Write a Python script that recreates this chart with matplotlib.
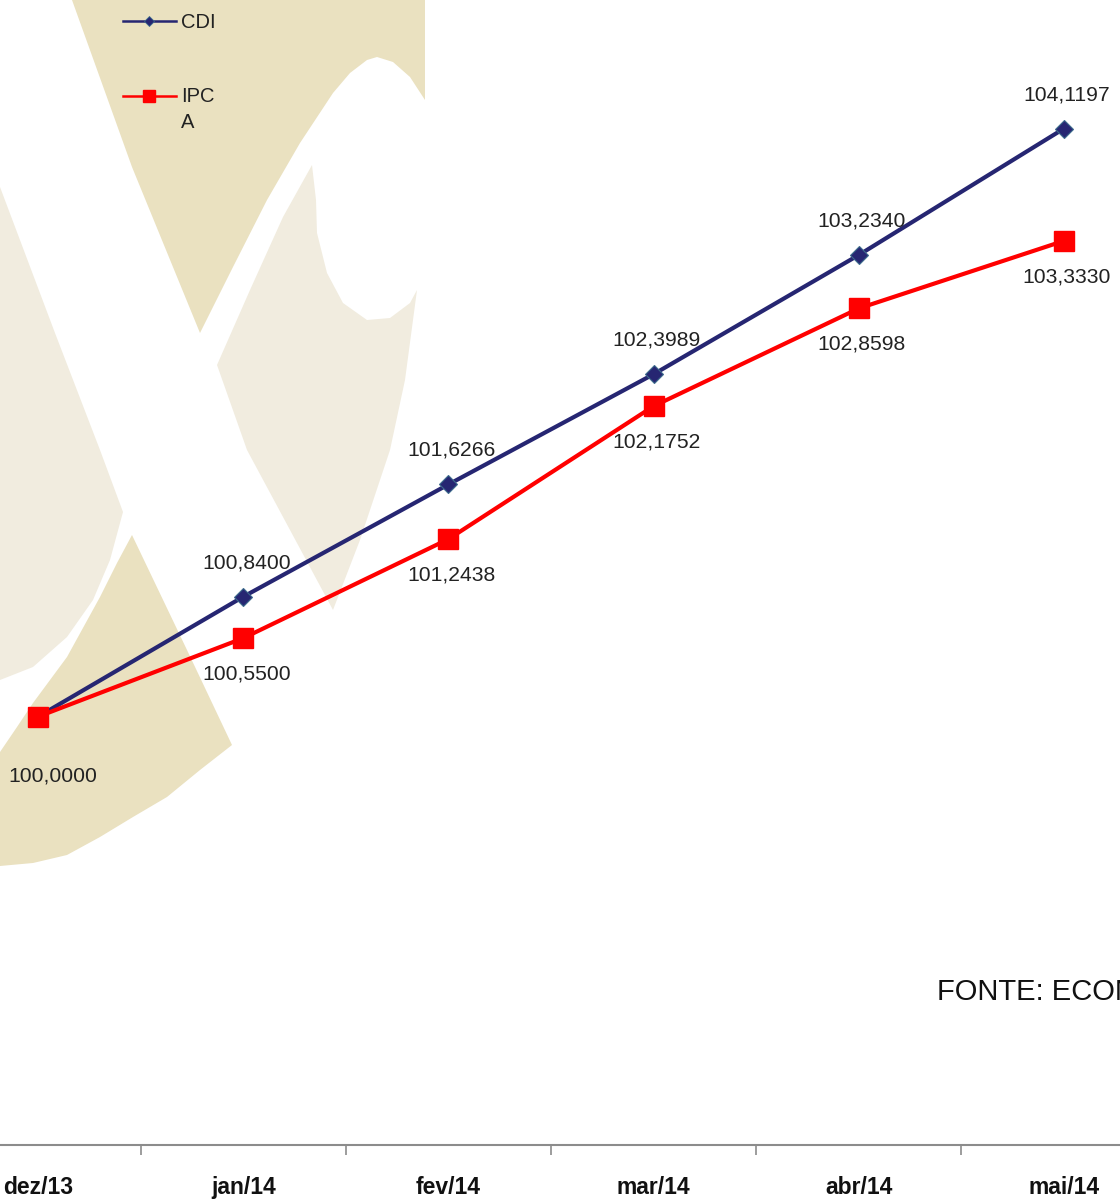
"""CDI vs IPCA index (base 100 in dez/13), monthly through mai/14."""

import matplotlib.pyplot as plt
from matplotlib.patches import Polygon

MONTHS = ["dez/13", "jan/14", "fev/14", "mar/14", "abr/14", "mai/14"]
CDI = [100.0000, 100.8400, 101.6266, 102.3989, 103.2340, 104.1197]
IPCA = [100.0000, 100.5500, 101.2438, 102.1752, 102.8598, 103.3330]

SOURCE = "FONTE: ECONOMATICA"

NAVY = "#262672"
RED = "#FF0000"
TAN_DARK = "#EAE1C0"
TAN_LIGHT = "#F1ECDF"
TEXT = "#222222"

W, H = 1120, 1200

# watermark logo outlines, in figure pixels (y grows downwards)
LOGO_DARK = [
    [(72, 0), (425, 0), (425, 100), (410, 77), (393, 62), (377, 57), (367, 60),
     (350, 73), (333, 93), (300, 143), (267, 200), (233, 267), (200, 333),
     (132, 167)],
    [(132, 535), (187, 650), (232, 745), (200, 770), (167, 797), (133, 817),
     (100, 837), (67, 855), (33, 863), (0, 866), (0, 752), (17, 727),
     (33, 703), (67, 657), (100, 597), (117, 563)],
]
LOGO_LIGHT = [
    [(217, 365), (250, 290), (283, 217), (312, 165), (316, 200), (317, 233),
     (327, 273), (343, 303), (367, 320), (390, 318), (410, 303), (417, 290),
     (405, 380), (390, 450), (360, 540), (333, 610), (290, 530), (247, 450)],
    [(0, 187), (55, 333), (100, 450), (123, 512), (110, 560), (93, 600),
     (67, 637), (33, 667), (0, 680)],
]


def fmt(value: float) -> str:
    return f"{value:.4f}".replace(".", ",")


def main() -> None:
    plt.rcParams["font.family"] = ["Liberation Sans", "DejaVu Sans"]
    fig = plt.figure(figsize=(W / 100, H / 100), dpi=100)

    # pixel canvas for the watermark, legend and source note
    canvas = fig.add_axes([0, 0, 1, 1], zorder=0)
    canvas.set_xlim(0, W)
    canvas.set_ylim(H, 0)
    canvas.axis("off")
    for pts in LOGO_DARK:
        canvas.add_patch(Polygon(pts, closed=True, facecolor=TAN_DARK, edgecolor="none", zorder=1))
    for pts in LOGO_LIGHT:
        canvas.add_patch(Polygon(pts, closed=True, facecolor=TAN_LIGHT, edgecolor="none", zorder=1))

    # legend
    canvas.plot([123, 176], [21, 21], color=NAVY, lw=1.8, zorder=3)
    canvas.plot([149], [21], marker="D", ms=5.5, color=NAVY, mec="#3C6A8C", mew=0.6, zorder=4)
    canvas.text(181, 22, "CDI", fontsize=14.5, color=TEXT, va="center", ha="left", zorder=4)
    canvas.plot([123, 176], [96, 96], color=RED, lw=1.8, zorder=3)
    canvas.plot([149], [96], marker="s", ms=8.5, color=RED, zorder=4)
    canvas.text(181, 97, "IPC", fontsize=14.5, color=TEXT, va="center", ha="left", zorder=4)
    canvas.text(181, 123, "A", fontsize=14.5, color=TEXT, va="center", ha="left", zorder=4)

    canvas.text(937, 992, SOURCE, fontsize=21, color="#111111", va="center", ha="left", zorder=4)

    ax = fig.add_axes([0, 55 / H, 1, 1145 / H], zorder=1)
    ax.patch.set_visible(False)
    x = list(range(len(MONTHS)))

    ax.plot(x, CDI, color=NAVY, lw=3, marker="D", ms=9, mfc=NAVY, mec="#3C6A8C", mew=0.8,
            zorder=3, label="CDI")
    ax.plot(x, IPCA, color=RED, lw=3, marker="s", ms=14.5, mfc=RED, mec=RED,
            zorder=4, label="IPCA")

    for i, v in enumerate(CDI):
        if i == 0:
            continue
        ax.annotate(fmt(v), (i, v), xytext=(3, 34), textcoords="offset pixels",
                    ha="center", va="center", fontsize=15.2, color=TEXT)
    for i, v in enumerate(IPCA):
        offset = (15, -59) if i == 0 else (3, -36)
        ax.annotate(fmt(v), (i, v), xytext=offset, textcoords="offset pixels",
                    ha="center", va="center", fontsize=15.2, color=TEXT)

    ax.set_xlim(-38 / 205.2, (W - 38) / 205.2)
    ax.set_ylim(97, 105.02)

    for side in ("left", "right", "top"):
        ax.spines[side].set_visible(False)
    ax.spines["bottom"].set_color("#8C8C8C")
    ax.spines["bottom"].set_linewidth(1.5)

    ax.set_yticks([])
    ax.set_xticks(x)
    ax.set_xticklabels(MONTHS, fontsize=16.5, fontweight="bold", color="#111111")
    ax.set_xticks([i + 0.5 for i in x[:-1]], minor=True)
    ax.tick_params(axis="x", which="major", length=0, pad=22)
    ax.tick_params(axis="x", which="minor", length=7, width=1.2, color="#8C8C8C", direction="out")

    fig.savefig("out.png", dpi=100)
    plt.close(fig)


if __name__ == "__main__":
    main()
